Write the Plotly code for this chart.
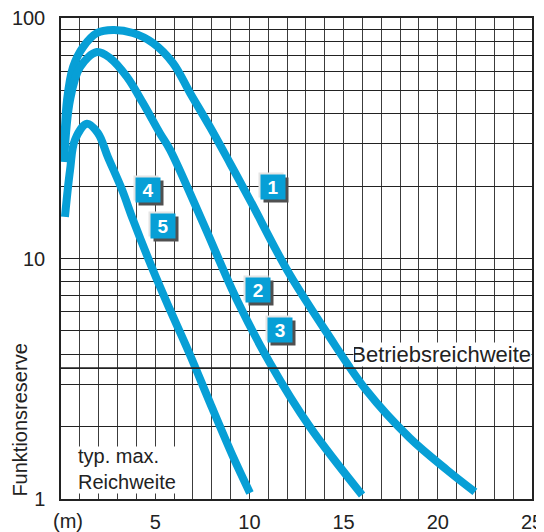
import numpy as np
import plotly.graph_objects as go

# Reichweite (m) / Funktionsreserve
curve1_x = [0.16, 0.32, 0.64, 1.17, 1.91, 2.76, 3.82, 4.88, 5.94, 6.85, 7.91, 8.97,
            10.03, 12.0, 14.12, 16.24, 18.52, 20.49, 21.97]
curve1_y = [28.0, 45.6, 62.5, 75.7, 86.6, 89.1, 86.6, 78.7, 65.0, 48.8, 35.2, 24.9,
            17.5, 8.96, 4.90, 2.81, 1.79, 1.32, 1.07]

curve2_x = [0.16, 0.48, 1.01, 1.91, 2.60, 3.50, 4.35, 5.25, 5.79, 7.54, 9.34, 11.09,
            13.22, 15.98]
curve2_y = [25.2, 45.6, 62.5, 72.2, 68.2, 56.9, 44.3, 33.2, 28.3, 14.06, 6.72, 3.68,
            1.99, 1.04]

curve4_x = [0.21, 0.48, 0.74, 1.38, 1.96, 2.49, 3.24, 3.82, 4.88, 5.79, 6.85, 7.91,
            9.13, 10.03]
curve4_y = [14.9, 23.3, 31.1, 36.3, 33.2, 26.4, 19.3, 14.5, 8.96, 6.11, 3.97, 2.51,
            1.50, 1.06]

# curve number boxes: label, x (m), Funktionsreserve
box_labels = ["1", "2", "3", "4", "5"]
box_x = [11.25, 10.46, 11.62, 4.62, 5.41]
box_y = [19.8, 7.40, 5.05, 19.3, 13.6]

x_ticks = [5, 10, 15, 20, 25]
y_ticks = [1, 10, 100]
y_minor = [2, 3, 4, 5, 6, 7, 8, 9, 20, 30, 40, 50, 60, 70, 80, 90]
betriebsreichweite = 3.5

BLUE = "#079fd6"
INK = "#222222"
FONT = "Liberation Sans"

fig = go.Figure()

for xs, ys in [(curve1_x, curve1_y), (curve2_x, curve2_y), (curve4_x, curve4_y)]:
    fig.add_trace(go.Scatter(
        x=xs, y=ys, mode="lines",
        line=dict(color=BLUE, width=8, shape="spline", smoothing=1.0),
        showlegend=False, hoverinfo="skip",
    ))

fig.add_hline(y=betriebsreichweite, line=dict(color=INK, width=1.6), layer="above")

# Betriebsreichweite label
fig.add_annotation(
    xref="paper", x=1, xanchor="right",
    yref="y", y=np.log10(betriebsreichweite), yanchor="bottom", yshift=1,
    text="Betriebsreichweite", showarrow=False, align="right",
    width=177, height=23, borderpad=0, bgcolor="white",
    font=dict(size=22, color=INK, family=FONT),
)

# typ. max. Reichweite box
fig.add_annotation(
    xref="paper", x=0, xanchor="left", xshift=1,
    yref="paper", y=0, yanchor="bottom", yshift=5,
    text=" ", showarrow=False, width=122, height=46, borderpad=0, bgcolor="white",
)
fig.add_annotation(
    xref="paper", x=0, xanchor="left", xshift=15,
    yref="paper", y=0, yanchor="bottom", yshift=4,
    text="typ. max.<br>Reichweite", showarrow=False, align="left",
    font=dict(size=20, color=INK, family=FONT),
)

# numbered boxes: bevel, shadow, face
for lab, bx, by in zip(box_labels, box_x, box_y):
    for dx, dy, col in [(-2, 2, "#e4e4e4"), (3, -3, "#505050"), (0, 0, BLUE)]:
        fig.add_annotation(
            x=bx, y=np.log10(by), xshift=dx, yshift=dy,
            text=f"<b>{lab}</b>", showarrow=False,
            width=24, height=24, borderpad=0, bgcolor=col,
            font=dict(size=19, color="white", family=FONT),
        )

fig.add_annotation(
    xref="x", x=0.37, yref="paper", y=0, yanchor="top", yshift=-9,
    text="(m)", showarrow=False, font=dict(size=20, color=INK, family=FONT),
)
fig.add_annotation(
    xref="paper", x=-0.087, yref="paper", y=0.163, xanchor="center", yanchor="middle",
    text="Funktionsreserve", textangle=-90, showarrow=False,
    font=dict(size=20, color=INK, family=FONT),
)

fig.update_xaxes(
    range=[0, 25], tickvals=x_ticks, ticks="", ticklabelstandoff=4,
    ticklabeloverflow="allow",
    showgrid=True, gridcolor="#3c3c3c", gridwidth=1,
    minor=dict(dtick=1, showgrid=True, gridcolor="#3c3c3c", gridwidth=1),
    showline=True, linecolor=INK, linewidth=1.5, mirror=True, zeroline=False,
    tickfont=dict(size=20, color=INK, family=FONT),
)
fig.update_yaxes(
    type="log", range=[0, 2], tickvals=y_ticks, ticks="", ticklabelstandoff=10,
    ticklabeloverflow="allow",
    showgrid=True, gridcolor="#222222", gridwidth=1,
    minor=dict(tickvals=y_minor, showgrid=True, gridcolor="#222222", gridwidth=1),
    showline=True, linecolor=INK, linewidth=1.5, mirror=True, zeroline=False,
    tickfont=dict(size=20, color=INK, family=FONT),
)

# the page body adds an 8px offset, so the figure is 8px smaller each way
fig.update_layout(
    width=536, height=524,
    margin=dict(l=53, r=12, t=10, b=33, autoexpand=False),
    plot_bgcolor="white", paper_bgcolor="white",
    font=dict(family=FONT, color=INK),
)

fig.write_html("out.html")
